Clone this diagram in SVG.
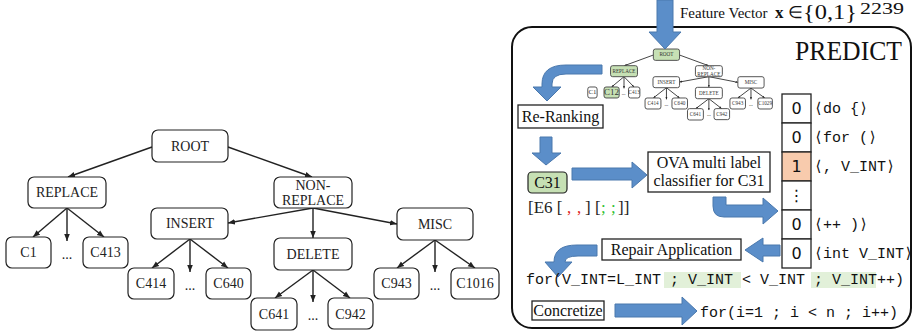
<svg xmlns="http://www.w3.org/2000/svg" width="916" height="333" viewBox="0 0 916 333">
<style>
.bx{fill:#fff;stroke:#222;stroke-width:1.2}
.gb{fill:#c6e0b4;stroke:#222;stroke-width:1.2}
.t{font-family:"Liberation Serif","Times New Roman",serif;font-size:14px;fill:#222;text-anchor:middle}
.ln{stroke:#222;stroke-width:1.4;fill:none;marker-end:url(#ah)}
.ba{fill:#5b8ec9;stroke:#4a78ad;stroke-width:1}
.sq{fill:#fff;stroke:#222;stroke-width:1.3}
.m{font-family:"Liberation Mono","DejaVu Sans Mono",monospace;font-size:15px;fill:#111}
.lab{font-family:"Liberation Serif","Times New Roman",serif;font-size:16px;fill:#111}
.e6{font-family:"Liberation Serif","Times New Roman",serif;font-size:17px;fill:#222}
.red{fill:#e02020}
.grn{fill:#2fbf2f}
.num{font-family:"DejaVu Sans","Liberation Sans",sans-serif;font-size:16px;fill:#111;text-anchor:middle}
.fv{font-family:"Liberation Serif","Times New Roman",serif;font-size:17px;fill:#111}
</style>
<defs>
<marker id="ah" viewBox="0 0 10 10" refX="10" refY="5" markerWidth="7" markerHeight="7" markerUnits="userSpaceOnUse" orient="auto">
<path d="M0,1 L10,5 L0,9 Z" fill="#222"/>
</marker>
</defs>

<!-- LEFT TREE -->
<g id="left-tree">
<g id="connectors">
<path class="ln" d="M152,147 L68,177"/>
<path class="ln" d="M228,147 L312,177"/>
<path class="ln" d="M67,208 L33,237"/>
<path class="ln" d="M67,208 L67,241"/>
<path class="ln" d="M67,208 L104,237"/>
<path class="ln" d="M313,208 L228,223"/>
<path class="ln" d="M313,208 L313,238"/>
<path class="ln" d="M313,208 L397,224"/>
<path class="ln" d="M190,239 L152,268"/>
<path class="ln" d="M190,239 L190,272"/>
<path class="ln" d="M190,239 L228,268"/>
<path class="ln" d="M313,270 L275,298"/>
<path class="ln" d="M313,270 L313,302"/>
<path class="ln" d="M313,270 L350,298"/>
<path class="ln" d="M435,240 L397,268"/>
<path class="ln" d="M435,240 L435,272"/>
<path class="ln" d="M435,240 L475,268"/>
</g>
<g id="n-root"><rect class="bx" x="152" y="130" width="76" height="32" rx="6"/><text class="t" x="190" y="151">ROOT</text></g>
<g id="n-replace"><rect class="bx" x="28" y="177" width="78" height="31" rx="6"/><text class="t" x="67" y="197">REPLACE</text></g>
<g id="n-nonreplace"><rect class="bx" x="274" y="177" width="78" height="31" rx="6"/><text class="t" x="313" y="190">NON-</text><text class="t" x="313" y="205">REPLACE</text></g>
<g id="n-insert"><rect class="bx" x="151" y="208" width="77" height="31" rx="6"/><text class="t" x="190" y="228">INSERT</text></g>
<g id="n-delete"><rect class="bx" x="274" y="238" width="78" height="32" rx="6"/><text class="t" x="313" y="259">DELETE</text></g>
<g id="n-misc"><rect class="bx" x="397" y="208" width="76" height="32" rx="6"/><text class="t" x="435" y="229">MISC</text></g>
<g id="n-c1"><rect class="bx" x="6" y="237" width="45" height="31" rx="6"/><text class="t" x="28.5" y="257">C1</text></g>
<g id="n-d1"><text class="t" x="67" y="259">...</text></g>
<g id="n-c413"><rect class="bx" x="83" y="237" width="45" height="31" rx="6"/><text class="t" x="105.5" y="257">C413</text></g>
<g id="n-c414"><rect class="bx" x="128" y="268" width="46" height="31" rx="6"/><text class="t" x="151" y="288">C414</text></g>
<g id="n-d2"><text class="t" x="190" y="290">...</text></g>
<g id="n-c640"><rect class="bx" x="206" y="268" width="45" height="31" rx="6"/><text class="t" x="228.5" y="288">C640</text></g>
<g id="n-c641"><rect class="bx" x="251" y="298" width="46" height="32" rx="6"/><text class="t" x="274" y="319">C641</text></g>
<g id="n-d3"><text class="t" x="313" y="320">...</text></g>
<g id="n-c942"><rect class="bx" x="328" y="298" width="45" height="31" rx="6"/><text class="t" x="350.5" y="319">C942</text></g>
<g id="n-c943"><rect class="bx" x="374" y="268" width="45" height="31" rx="6"/><text class="t" x="396.5" y="288">C943</text></g>
<g id="n-d4"><text class="t" x="435" y="290">...</text></g>
<g id="n-c1016"><rect class="bx" x="451" y="268" width="48" height="31" rx="6"/><text class="t" x="475" y="288">C1016</text></g>
</g>

<!-- RIGHT PANEL -->
<g id="predict-panel">
<rect x="512" y="27" width="399" height="301" rx="20" fill="#fff" stroke="#111" stroke-width="2"/>
<text x="795" y="60" font-family="Liberation Serif,Times New Roman,serif" font-size="28" fill="#111" textLength="107" lengthAdjust="spacingAndGlyphs">PREDICT</text>
</g>

<g id="feature-label">
<text class="fv" x="680" y="18" style="font-size:15px">Feature Vector</text>
<text class="fv" x="775" y="18"><tspan font-weight="bold">x</tspan><tspan x="788">∈</tspan></text>
<text class="fv" x="803" y="19" style="font-size:20px" textLength="54" lengthAdjust="spacingAndGlyphs">{0,1}</text>
<text class="fv" x="860" y="14" style="font-size:16px" textLength="44" lengthAdjust="spacingAndGlyphs">2239</text>
</g>

<!-- mini tree -->
<g id="mini-tree" transform="translate(600.9,2.85) scale(0.345,0.355)">
<g stroke="#333" stroke-width="2.6" fill="none" marker-end="url(#ah)">
<path d="M152,147 L68,177"/>
<path d="M228,147 L312,177"/>
<path d="M67,208 L31,237"/>
<path d="M67,208 L67,241"/>
<path d="M67,208 L96,237"/>
<path d="M313,208 L228,223"/>
<path d="M313,208 L313,238"/>
<path d="M313,208 L397,224"/>
<path d="M190,239 L152,268"/>
<path d="M190,239 L190,272"/>
<path d="M190,239 L228,268"/>
<path d="M313,270 L275,298"/>
<path d="M313,270 L313,302"/>
<path d="M313,270 L350,298"/>
<path d="M435,240 L397,268"/>
<path d="M435,240 L435,272"/>
<path d="M435,240 L475,268"/>
</g>
<g stroke="#444" stroke-width="2.6">
<rect x="152" y="130" width="76" height="32" rx="6" fill="#c6e0b4"/>
<rect x="28" y="177" width="78" height="31" rx="6" fill="#c6e0b4"/>
<rect x="274" y="177" width="78" height="31" rx="6" fill="#fff"/>
<rect x="151" y="208" width="77" height="31" rx="6" fill="#fff"/>
<rect x="274" y="238" width="78" height="32" rx="6" fill="#fff"/>
<rect x="397" y="208" width="76" height="32" rx="6" fill="#fff"/>
<rect x="-38" y="237" width="27" height="31" rx="6" fill="#fff"/>
<rect x="9" y="237" width="44" height="31" rx="6" fill="#c6e0b4"/>
<rect x="80" y="237" width="33" height="31" rx="6" fill="#fff"/>
<rect x="128" y="268" width="46" height="31" rx="6" fill="#fff"/>
<rect x="206" y="268" width="45" height="31" rx="6" fill="#fff"/>
<rect x="251" y="298" width="46" height="32" rx="6" fill="#fff"/>
<rect x="328" y="298" width="45" height="31" rx="6" fill="#fff"/>
<rect x="374" y="268" width="45" height="31" rx="6" fill="#fff"/>
<rect x="455" y="268" width="42" height="31" rx="6" fill="#fff"/>
</g>
<g font-family="Liberation Serif,Times New Roman,serif" font-size="15" fill="#333" text-anchor="middle">
<text x="190" y="151">ROOT</text>
<text x="67" y="197">REPLACE</text>
<text x="313" y="190">NON-</text><text x="313" y="205">REPLACE</text>
<text x="190" y="228">INSERT</text>
<text x="313" y="259">DELETE</text>
<text x="435" y="229">MISC</text>
<text x="-24.5" y="258" font-size="20">C1</text>
<text x="31" y="259" font-size="26">C12</text>
<text x="66" y="259">...</text>
<text x="96.5" y="257">C413</text>
<text x="151" y="288">C414</text>
<text x="190" y="290">...</text>
<text x="228.5" y="288">C640</text>
<text x="274" y="319">C641</text>
<text x="313" y="320">...</text>
<text x="350.5" y="319">C942</text>
<text x="396.5" y="288">C943</text>
<text x="435" y="290">...</text>
<text x="476" y="288">C1029</text>
</g>
</g>

<!-- blue arrows -->
<g id="arrows">
<path class="ba" d="M657,0 L673,0 L673,32 L681,32 L665,49 L649,32 L657,32 Z"/>
<path class="ba" d="M602,65 L566,65 Q542,65 542,84 L542,87 L533,87 L547,101 L561,87 L552,87 L552,84 Q552,74 566,74 L602,74 Z"/>
<path class="ba" d="M540,137 L552,137 L552,153 L561,153 L546,165 L532,153 L540,153 Z"/>
<path class="ba" d="M572,168 L632,168 L632,162 L647,175 L632,188 L632,180 L572,180 Z"/>
<path class="ba" d="M713,197 L726,197 L726,205 L763,205 L763,198 L778,211 L763,224 L763,217 L724,217 Q713,217 713,206 Z"/>
<path class="ba" d="M780,245 L763,245 L763,238 L745,250 L763,262 L763,256 L780,256 Z"/>
<path class="ba" d="M597,245 L577,245 Q554,245 554,262 L545,262 L558,277 L572,262 L565,262 Q565,256 578,256 L597,256 Z"/>
<path class="ba" d="M615,304 L682,304 L682,297 L697,311 L682,325 L682,317 L615,317 Z"/>
</g>

<g id="n-reranking"><rect class="sq" x="518" y="105" width="85" height="23"/><text class="lab" x="560.5" y="122" text-anchor="middle">Re-Ranking</text></g>

<g id="n-c31"><rect class="gb" x="528" y="172" width="39" height="21" rx="4"/><text class="lab" x="547.5" y="188" text-anchor="middle">C31</text></g>
<g id="n-e6">
<text class="e6" x="528" y="213">[E6 [</text>
<text class="e6 red" x="567" y="213">,</text>
<text class="e6 red" x="577" y="213">,</text>
<text class="e6" x="585" y="213">] [</text>
<text class="e6 grn" x="601" y="213">;</text>
<text class="e6 grn" x="611" y="213">;</text>
<text class="e6" x="618" y="213">]]</text>
</g>

<g id="n-ova"><rect class="sq" x="648" y="152" width="122" height="40"/><text class="lab" x="709" y="168" text-anchor="middle">OVA multi label</text><text class="lab" x="709" y="186" text-anchor="middle">classifier for C31</text></g>

<g id="n-vector">
<rect class="sq" x="782" y="94" width="29" height="29"/>
<rect class="sq" x="782" y="123" width="29" height="29"/>
<rect x="782" y="152" width="29" height="29" fill="#f8cbad" stroke="#222" stroke-width="1.3"/>
<rect class="sq" x="782" y="181" width="29" height="29"/>
<rect class="sq" x="782" y="210" width="29" height="29"/>
<rect class="sq" x="782" y="239" width="29" height="29"/>
<text class="num" x="796.5" y="114">0</text>
<text class="num" x="796.5" y="143">0</text>
<text class="num" x="796.5" y="172">1</text>
<text class="num" x="796.5" y="201">⋮</text>
<text class="num" x="796.5" y="230">0</text>
<text class="num" x="796.5" y="259">0</text>
<text class="m" x="814" y="113">⟨do {⟩</text>
<text class="m" x="814" y="142">⟨for (⟩</text>
<text class="m" x="814" y="171">⟨, V_INT⟩</text>
<text class="m" x="814" y="229">⟨++ )⟩</text>
<text class="m" x="814" y="258">⟨int V_INT⟩</text>
</g>

<g id="n-repair"><rect class="sq" x="602" y="239" width="139" height="21"/><text class="lab" x="671.5" y="255" text-anchor="middle">Repair Application</text></g>

<g id="n-forabs">
<rect x="664" y="272" width="77" height="16" fill="#e2f0d9"/>
<rect x="811" y="272" width="65" height="16" fill="#e2f0d9"/>
<text class="m" x="526" y="284" xml:space="preserve">for(V_INT=L_INT ; V_INT &lt; V_INT ; V_INT++)</text>
</g>

<g id="n-concretize"><rect class="sq" x="532" y="301" width="72" height="19"/><text class="lab" x="568" y="316" text-anchor="middle">Concretize</text></g>
<g id="n-forconc"><text class="m" x="700" y="317" xml:space="preserve">for(i=1 ; i &lt; n ; i++)</text></g>
</svg>
